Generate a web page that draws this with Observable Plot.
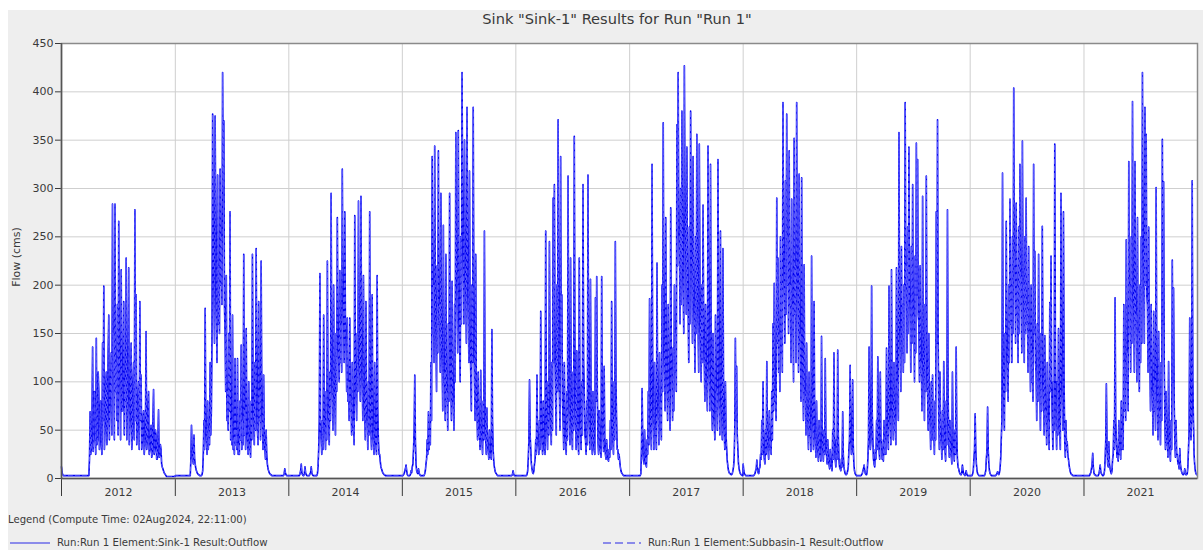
<!DOCTYPE html>
<html>
<head>
<meta charset="utf-8">
<script src="https://cdn.jsdelivr.net/npm/d3@7"></script>
<script src="https://cdn.jsdelivr.net/npm/@observablehq/plot@0.6"></script>
<style>
  html, body { margin: 0; padding: 0; background: #ffffff; }
  #page { position: relative; width: 1203px; height: 550px; overflow: hidden; font-family: "DejaVu Sans", sans-serif; }
  #panel { position: absolute; left: 8px; top: 10px; width: 1195px; height: 540px; background: #eeeeee; }
  #chart { position: absolute; left: 0; top: 0; }
  #title { position: absolute; top: 10px; left: 0; width: 1234px; text-align: center; font-size: 14.6px; color: #3a3a3a; }
  #ylab { position: absolute; left: 16px; top: 257px; transform: translate(-50%, -50%) rotate(-90deg); font-size: 11px; color: #3a3a3a; white-space: nowrap; }
  #legendHead { position: absolute; left: 8px; top: 514px; font-size: 10.1px; color: #3a3a3a; }
  .lg { position: absolute; top: 537px; font-size: 10.2px; color: #3a3a3a; display: flex; align-items: center; }
  .lg svg { margin-right: 7px; }
</style>
</head>
<body>
<div id="page">
  <div id="panel"></div>
  <div id="chart"></div>
  <div id="title"></div>
  <div id="ylab"></div>
  <div id="legendHead"></div>
  <div class="lg" id="lg1" style="left:10px"></div>
  <div class="lg" id="lg2" style="left:603px"></div>
</div>
<script>
// ---- Text ----
const titleText = 'Sink "Sink-1" Results for Run "Run 1"';
const yLabel = "Flow (cms)";
const legendHeadText = "Legend (Compute Time: 02Aug2024, 22:11:00)";
const seriesNames = ["Run:Run 1 Element:Sink-1 Result:Outflow", "Run:Run 1 Element:Subbasin-1 Result:Outflow"];

// ---- Axis ticks ----
const years = [2012, 2013, 2014, 2015, 2016, 2017, 2018, 2019, 2020, 2021];
const yTicks = [0, 50, 100, 150, 200, 250, 300, 350, 400, 450];

// ---- Flow (cms) ----
// "a" arrays: readings every 4 days from 1 Jan; "b" arrays: readings every 4 days from 3 Jan.
const flow2012a = [12,4,3,3,3,3,3,3,3,3,3,3,3,3,3,3,3,3,3,3,3,3,3,
  69,30,136,45,60,145,40,90,55,35,140,199,50,110,60,169,80,130,284,150,284,120,180,266,95,216,70,183,100,228,75,218,60,140,45,120,278,190,50,100,183,107,40,70,35,152,40,90,30,55,25,92,30,45,20,71,25,30,12,8,5,3,2,2,2,2,2,2,2];
const flow2012b = [6,3,3,3,3,3,3,3,3,3,3,3,3,3,3,3,3,3,3,3,3,3,
  20,25,60,28,90,25,35,110,30,80,25,60,30,95,35,130,40,100,45,110,40,90,60,45,130,40,70,110,45,80,40,120,35,90,30,100,40,60,35,80,30,60,30,60,25,55,30,70,25,45,22,60,25,50,20,40,22,35,15,10,6,4,2,2,2,2,2,2,2];
const flow2013a = [3,3,3,3,3,3,3,3,3,3,3,3,3,
  55,20,45,15,8,5,4,3,3,8,
  60,176,40,80,50,120,70,377,200,375,180,314,220,320,250,420,370,150,210,90,150,276,60,169,40,124,50,124,35,80,138,60,232,70,155,40,100,35,80,232,60,120,238,50,183,90,225,60,107,30,50,15,8,5,4,
  3,3,3,3,3,3,3,3,3,3,10,4,3,3];
const flow2013b = [3,3,3,3,3,3,3,3,3,3,3,3,
  20,30,15,20,10,6,4,3,3,4,25,
  30,60,25,30,35,45,150,250,140,260,120,160,150,200,180,300,180,90,60,50,70,40,35,30,25,35,30,25,25,40,30,35,45,30,50,25,30,22,40,90,35,50,100,35,60,40,90,30,45,20,25,
  10,6,4,3,3,3,3,3,3,3,3,3,3,5,6,3,3];
const flow2014a = [3,3,3,3,3,3,3,3,3,5,15,4,3,12,4,3,3,5,12,4,3,3,3,5,30,
  212,40,60,169,50,90,225,60,110,295,90,200,80,150,270,130,215,160,320,180,276,140,166,100,166,80,120,60,272,90,150,287,110,292,100,210,70,183,60,100,276,50,190,40,120,35,210,40,25,12,8,5,4,
  3,3,3,3,3,3,3,3,3,3,3,3,3,3];
const flow2014b = [3,3,3,3,3,3,3,3,
  3,8,6,3,5,6,3,3,3,6,6,3,3,3,3,12,
  60,50,25,30,60,30,40,80,35,60,130,50,90,45,90,150,100,120,110,200,120,160,90,80,60,70,45,50,35,120,60,90,150,80,140,60,90,40,70,30,45,90,30,60,25,45,25,70,25,18,
  10,6,4,3,3,3,3,3,3,3,3,3,3,3,3,3,3];
const flow2015a = [3,4,8,14,4,3,3,8,12,30,107,15,6,10,4,3,3,3,5,15,
  40,69,50,120,333,200,344,150,220,339,180,295,120,262,110,232,90,160,295,100,204,80,180,358,200,360,150,250,420,230,350,200,384,180,318,110,200,384,100,232,70,110,50,112,40,80,256,40,73,30,50,25,154,30,12,6,4,
  3,3,3,3,3,3,3,3,3,3,3,3,8,3,3];
const flow2015b = [3,5,10,8,3,3,4,6,15,50,40,8,5,6,3,3,3,3,8,20,
  25,30,35,60,150,120,200,90,130,160,110,140,70,100,60,80,50,80,120,60,80,50,100,220,130,200,100,160,280,160,220,140,240,120,150,70,120,180,60,90,40,45,30,45,25,40,80,25,30,20,22,20,60,18,
  8,5,3,3,3,3,3,3,3,3,3,3,3,3,4,5,3];
const flow2016a = [3,3,3,3,3,3,3,3,3,4,20,102,30,10,5,15,40,107,35,60,173,40,80,30,256,50,100,245,60,120,290,304,80,200,371,90,333,190,60,120,40,90,313,70,228,50,110,354,60,132,40,228,50,100,304,91,40,80,314,60,206,40,90,30,187,209,40,70,30,209,50,116,25,40,20,30,60,183,40,100,245,60,30,25,12,6,4,
  3,3,3,3,3];
const flow2016b = [3,3,3,3,3,3,3,3,3,8,40,45,15,6,8,20,25,40,25,30,
  60,25,40,25,90,30,45,100,35,50,120,130,45,90,160,50,130,80,30,50,25,40,120,35,90,30,50,140,30,50,25,90,30,45,120,45,25,35,120,30,80,25,40,25,80,90,25,30,22,80,28,40,20,25,18,22,30,70,25,40,100,30,20,18,8,
  5,3,3,3,3,3];
const flow2017a = [3,3,3,3,3,3,3,3,3,
  5,93,20,50,15,40,90,186,50,325,60,120,50,223,70,130,80,200,368,120,270,100,180,90,280,110,135,200,150,366,420,250,300,380,200,427,260,343,180,260,380,220,333,170,250,356,160,346,150,200,283,120,180,100,344,110,325,80,150,60,169,90,330,80,256,70,238,50,100,30,12,6,5,4,8,20,145,116,30,10,5,4,3];
const flow2017b = [3,3,3,3,3,3,3,3,3,30,40,15,25,12,25,35,70,30,120,30,
  45,30,90,35,50,40,90,160,70,120,60,80,50,130,60,70,110,90,220,260,160,180,230,150,280,170,200,120,160,230,140,190,110,150,210,110,200,100,120,160,80,100,70,170,70,150,50,70,40,70,50,140,45,110,40,90,30,45,18,8,
  5,4,5,12,50,60,45,15,7,4,3];
const flow2018a = [15,5,3,3,3,3,3,3,3,4,8,19,6,10,25,60,100,20,50,121,30,70,40,90,160,202,90,290,228,150,250,200,389,220,308,377,250,339,200,289,180,352,220,389,200,315,150,311,110,221,90,140,60,110,50,230,60,183,40,80,30,60,25,147,30,50,124,25,40,15,30,12,50,130,20,40,133,20,10,20,69,12,5,4,8,30,117,25,102,15,5,3];
const flow2018b = [8,4,3,3,3,3,3,3,3,5,10,10,5,12,20,25,35,15,25,40,
  20,30,25,40,70,80,60,140,110,90,130,110,240,140,170,200,150,180,120,150,100,170,120,200,110,140,80,130,60,90,45,60,30,45,28,90,30,60,22,35,18,25,18,50,18,25,45,15,20,10,15,8,20,45,12,20,45,12,8,12,25,8,
  4,5,12,40,45,30,35,8,4];
const flow2019a = [3,3,3,3,4,8,14,5,4,20,136,30,199,40,15,30,60,126,30,110,40,25,60,40,135,50,199,60,216,70,120,60,218,100,358,150,240,180,200,389,220,260,343,180,240,304,170,230,347,330,160,220,120,292,110,180,313,90,150,60,100,107,50,80,276,371,60,110,40,70,121,30,80,278,40,60,25,110,30,50,136,20,10,5,4,14,5,3,8,3,3,3];
const flow2019b = [3,3,3,3,5,10,8,4,8,40,50,40,70,20,12,20,30,45,20,40,
  20,18,25,25,45,30,70,35,80,40,50,35,90,60,160,90,130,110,120,200,130,150,190,110,140,160,100,130,190,170,100,110,70,130,60,90,130,50,60,30,40,40,25,40,140,150,30,40,20,30,45,18,35,90,22,25,15,40,18,25,45,12,7,
  4,6,8,4,4,5,3,3];
const flow2020a = [3,3,5,20,67,15,5,3,3,3,3,3,5,20,74,15,5,3,3,3,3,4,7,4,10,40,316,80,150,266,120,200,289,200,250,404,230,285,200,260,325,210,349,200,250,290,180,240,150,200,130,325,235,110,160,232,100,150,261,90,148,70,120,60,182,230,60,100,346,60,100,155,50,295,90,276,40,60,38,20,10,5,4,
  3,3,3,3,3,3,3,3,3];
const flow2020b = [3,3,8,30,30,8,4,3,3,3,3,3,8,30,30,8,4,3,3,3,3,5,5,6,20,
  60,130,50,90,140,80,120,160,120,150,220,140,170,120,150,180,130,190,120,150,160,110,130,90,100,80,150,120,60,80,110,50,70,120,45,60,35,50,30,90,100,30,50,140,30,45,60,30,120,50,100,22,30,25,14,7,
  4,3,3,3,3,3,3,3,3,3];
const flow2021a = [3,3,3,3,3,5,10,26,6,4,3,3,5,14,5,3,4,20,98,15,38,10,5,20,60,187,40,25,60,30,80,50,180,120,247,130,328,200,250,390,180,328,170,270,150,200,250,420,230,384,356,180,260,120,180,90,173,100,301,80,152,70,120,351,307,60,90,40,121,30,60,226,197,40,60,25,15,31,10,5,4,10,4,5,30,166,40,308,60,14,5,4];
const flow2021b = [3,3,3,3,3,6,15,12,4,3,3,3,8,7,4,3,8,40,35,12,15,7,8,25,
  30,60,22,18,25,20,30,30,70,60,100,70,150,110,140,200,110,160,100,130,90,120,140,240,140,200,190,110,130,70,90,45,70,50,120,40,60,35,60,160,120,30,35,22,45,18,30,100,80,22,25,15,10,15,7,
  4,5,6,4,12,50,60,60,100,25,8,4];

const flowA = [flow2012a, flow2013a, flow2014a, flow2015a, flow2016a, flow2017a, flow2018a, flow2019a, flow2020a, flow2021a];
const flowB = [flow2012b, flow2013b, flow2014b, flow2015b, flow2016b, flow2017b, flow2018b, flow2019b, flow2020b, flow2021b];

// Build table (the Subbasin-1 outflow equals the Sink-1 outflow)
const rows = [];
years.forEach((y, k) => {
  flowA[k].forEach((v, i) => rows.push({date: new Date(Date.UTC(y, 0, 1 + 4 * i)), flow: v}));
  flowB[k].forEach((v, i) => rows.push({date: new Date(Date.UTC(y, 0, 3 + 4 * i)), flow: v}));
});
rows.sort((p, q) => p.date - q.date);
const yearStarts = years.map(y => new Date(Date.UTC(y, 0, 1)));
const yearMids = years.map(y => new Date(Date.UTC(y, 6, 2)));
const xEnd = new Date(Date.UTC(years[years.length - 1] + 1, 0, 1));

const blueSolid = "#0000f0";
const blueDash = "#5a5aff";

const chart = Plot.plot({
  width: 1203,
  height: 505,
  marginLeft: 61,
  marginRight: 6,
  marginTop: 43,
  marginBottom: 27,
  style: {background: "transparent", fontFamily: "DejaVu Sans, sans-serif", fontSize: "11px", color: "#3a3a3a"},
  x: {type: "utc", domain: [yearStarts[0], xEnd], ticks: yearStarts, tickSize: 18, tickFormat: () => "", label: null},
  y: {domain: [0, 450], ticks: yTicks, tickSize: 6, tickPadding: 2, label: null},
  marks: [
    Plot.frame({fill: "white", stroke: null}),
    Plot.ruleY(yTicks, {stroke: "#cfcfcf", strokeWidth: 1}),
    Plot.ruleX(yearStarts, {stroke: "#cfcfcf", strokeWidth: 1}),
    Plot.line(rows, {x: "date", y: "flow", stroke: blueSolid, strokeWidth: 1.6}),
    Plot.line(rows, {x: "date", y: "flow", stroke: blueDash, strokeWidth: 1, strokeDasharray: "4,3"}),
    Plot.frame({stroke: "#8a8a8a", strokeWidth: 1.5}),
    Plot.ruleY([0], {stroke: "#555", strokeWidth: 1.5}),
    Plot.ruleX([yearStarts[0]], {stroke: "#555", strokeWidth: 1.5}),
    Plot.text(yearMids, {x: d => d, frameAnchor: "bottom", dy: 17, text: d => String(d.getUTCFullYear()), fill: "#3a3a3a", fontSize: 11})
  ]
});
document.getElementById("chart").appendChild(chart);

document.getElementById("title").textContent = titleText;
document.getElementById("ylab").textContent = yLabel;
document.getElementById("legendHead").textContent = legendHeadText;

function legendItem(id, color, dash, text) {
  const el = document.getElementById(id);
  const ns = "http://www.w3.org/2000/svg";
  const w = id === "lg1" ? 40 : 38;
  const s = document.createElementNS(ns, "svg");
  s.setAttribute("width", w);
  s.setAttribute("height", 8);
  const l = document.createElementNS(ns, "line");
  l.setAttribute("x1", 0); l.setAttribute("x2", w);
  l.setAttribute("y1", 4); l.setAttribute("y2", 4);
  l.setAttribute("stroke", color); l.setAttribute("stroke-width", 1.5);
  if (dash) l.setAttribute("stroke-dasharray", dash);
  s.appendChild(l);
  el.appendChild(s);
  const t = document.createElement("span");
  t.textContent = text;
  el.appendChild(t);
}
legendItem("lg1", "#6a6ae8", null, seriesNames[0]);
legendItem("lg2", "#6a6ae8", "8,4", seriesNames[1]);
</script>
</body>
</html>
